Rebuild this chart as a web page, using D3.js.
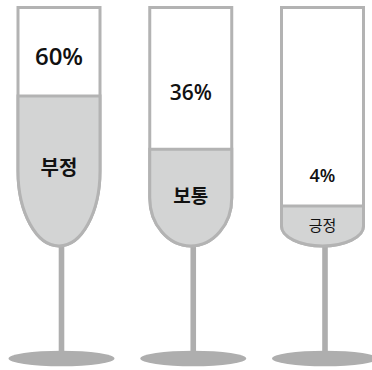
<!DOCTYPE html>
<html>
<head>
<meta charset="utf-8">
<script src="https://cdn.jsdelivr.net/npm/d3@7"></script>
<style>
  html, body { margin: 0; padding: 0; background: #fff; }
  svg { display: block; }
</style>
</head>
<body>
<div id="chart"></div>
<script>
// ---- data ----
const categories = ["부정", "보통", "긍정"];
const values = [60, 36, 4];
const valueLabels = ["60%", "36%", "4%"];

// ---- layout ----
const W = 372, H = 370;
const glassTop = 7.5, glassBottom = 246;
const glassWidth = 82;
const minFill = 40;            // room for the category label
const pctOffset = [41, 57, 31]; // percent label distance above liquid line
const pctSize = [24, 21, 18];
const catSize = [20, 19, 15];
const pctWeight = [600, 600, 600];
const catWeight = [700, 600, 400];
const strokeCol = "#b3b3b3", liquidCol = "#d3d4d4", stemCol = "#aeaeae";

const svg = d3.select("#chart").append("svg").attr("width", W).attr("height", H);

const x = d3.scalePoint().domain(categories).range([59, 322.5]);
const hScale = d3.scaleLinear().domain([0, 100]).range([17, glassBottom - glassTop]);

const g = svg.selectAll("g.glass").data(categories).join("g").attr("class", "glass");

g.each(function(c, i) {
  const sel = d3.select(this);
  const cx = x(c);
  const x0 = cx - glassWidth / 2, x1 = cx + glassWidth / 2;
  const h = Math.max(minFill, hScale(values[i]));
  const yF = glassBottom - h;
  const ry = h / 2, rx = glassWidth / 2;
  const yc = glassBottom - ry;
  const sx = cx + 2.5;

  // stem
  sel.append("rect").attr("x", sx - 2.8).attr("y", glassBottom - 2).attr("width", 5.6)
    .attr("height", 356 - glassBottom).attr("fill", stemCol);
  // base
  sel.append("ellipse").attr("cx", sx).attr("cy", 358.5).attr("rx", 53).attr("ry", 7.8)
    .attr("fill", stemCol);

  // glass outline
  sel.append("path")
    .attr("d", `M${x0},${glassTop}L${x1},${glassTop}L${x1},${yc}A${rx},${ry} 0 0 1 ${x0},${yc}Z`)
    .attr("fill", "#fff").attr("stroke", strokeCol).attr("stroke-width", 3);
  // liquid
  sel.append("path")
    .attr("d", `M${x0},${yF}L${x1},${yF}L${x1},${yc}A${rx},${ry} 0 0 1 ${x0},${yc}Z`)
    .attr("fill", liquidCol).attr("stroke", strokeCol).attr("stroke-width", 3);

  // percent label
  sel.append("text").attr("x", cx).attr("y", yF - pctOffset[i])
    .attr("text-anchor", "middle").attr("dominant-baseline", "central")
    .attr("font-family", "'Open Sans', 'Noto Sans', sans-serif")
    .attr("font-size", pctSize[i]).attr("font-weight", pctWeight[i])
    .attr("fill", "#111").text(valueLabels[i]);
  // category label
  sel.append("text").attr("x", cx).attr("y", yF + h * 0.47)
    .attr("text-anchor", "middle").attr("dominant-baseline", "central")
    .attr("font-family", "'Noto Sans CJK KR', sans-serif")
    .attr("font-size", catSize[i]).attr("font-weight", catWeight[i])
    .attr("fill", "#111").text(c);
});
</script>
</body>
</html>
